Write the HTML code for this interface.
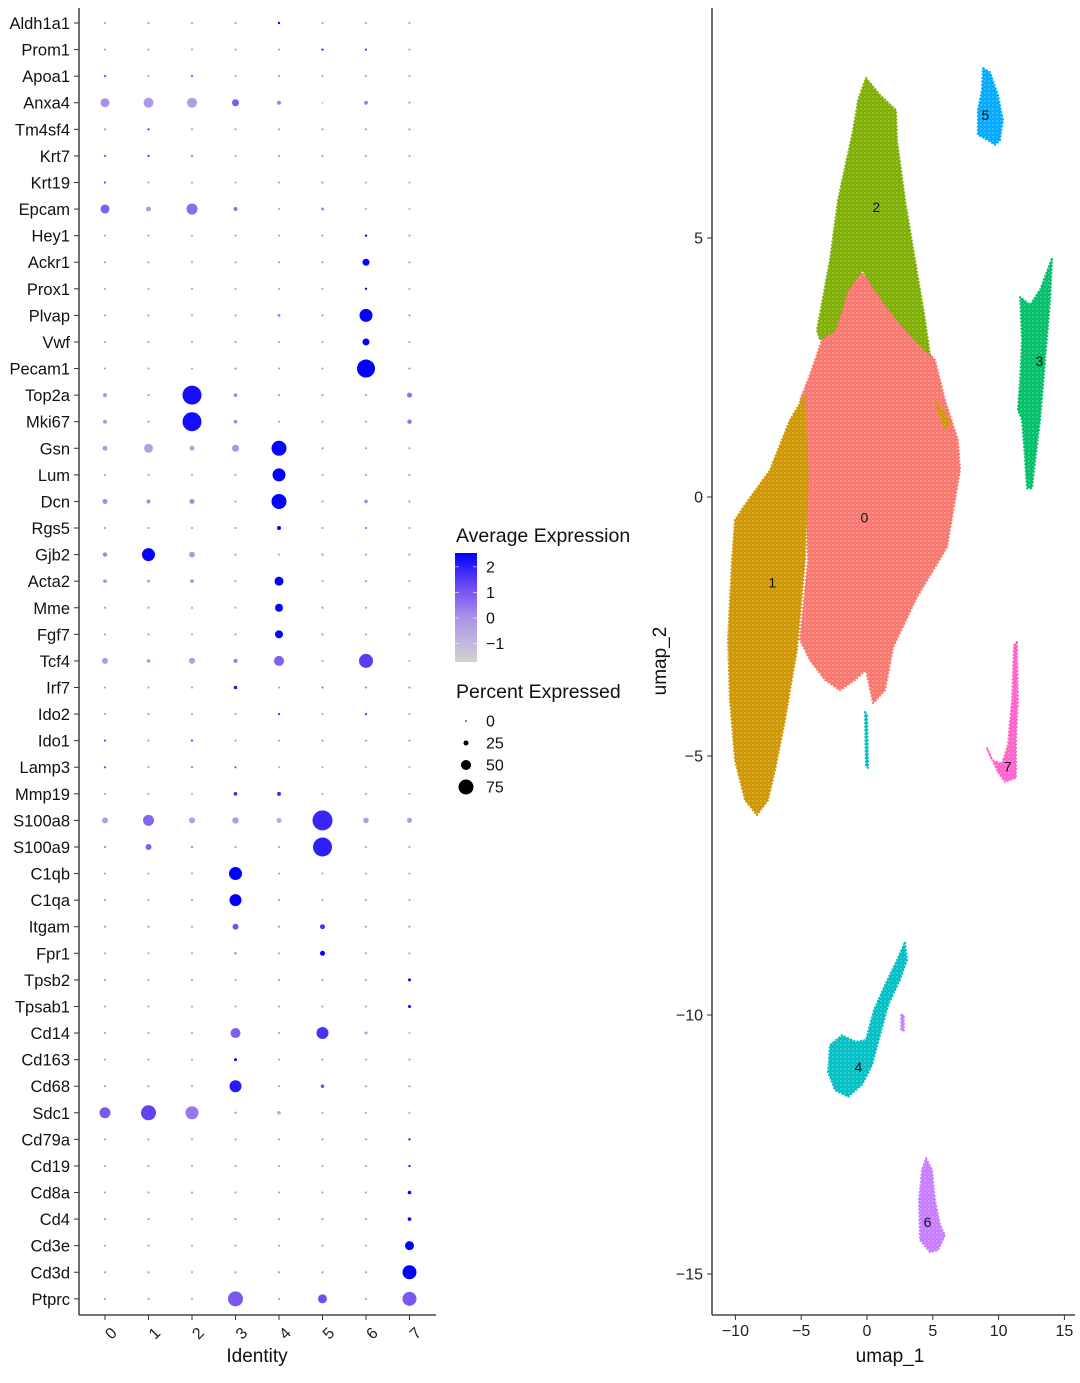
<!DOCTYPE html>
<html><head><meta charset="utf-8"><style>
html,body{margin:0;padding:0;background:#fff;}
svg{display:block;font-family:"Liberation Sans",Arial,sans-serif;}
</style></head><body>
<svg id="fig" width="1080" height="1383" viewBox="0 0 1080 1383" xmlns="http://www.w3.org/2000/svg">
<g id="dotplot"></g>
<g id="legend"></g>
<g id="umap"></g>
</svg>
<script>
const genes = ["Aldh1a1","Prom1","Apoa1","Anxa4","Tm4sf4","Krt7","Krt19","Epcam","Hey1","Ackr1","Prox1","Plvap","Vwf","Pecam1","Top2a","Mki67","Gsn","Lum","Dcn","Rgs5","Gjb2","Acta2","Mme","Fgf7","Tcf4","Irf7","Ido2","Ido1","Lamp3","Mmp19","S100a8","S100a9","C1qb","C1qa","Itgam","Fpr1","Tpsb2","Tpsab1","Cd14","Cd163","Cd68","Sdc1","Cd79a","Cd19","Cd8a","Cd4","Cd3e","Cd3d","Ptprc"];
const identities = ["0","1","2","3","4","5","6","7"];
// percent expressed per gene (8 clusters)
const pct = [
[7,7,7,7,12,7,7,7],[7,7,7,7,7,9,9,7],[8,7,8,7,7,7,7,7],[45,50,50,35,20,7,20,7],
[7,8,7,7,7,7,7,7],[8,8,7,7,7,7,7,7],[8,7,7,7,7,7,7,7],[45,25,55,20,7,15,7,7],
[7,7,7,7,7,7,12,7],[7,7,7,7,7,7,35,7],[7,7,7,7,7,7,12,7],[7,7,7,7,15,7,65,7],
[7,7,7,7,7,7,35,7],[7,7,7,8,7,7,90,8],[20,7,95,18,7,7,7,25],[20,7,95,18,7,7,7,22],
[25,45,25,35,75,10,10,8],[7,7,7,7,65,7,7,7],[25,20,25,8,75,7,18,10],[7,7,7,7,20,7,9,7],
[22,65,28,7,7,8,7,7],[18,14,18,7,45,7,10,7],[7,7,7,7,40,7,7,7],[7,7,7,7,40,7,7,7],
[30,18,30,20,50,8,70,7],[7,7,7,18,7,9,8,8],[7,7,7,7,9,7,9,7],[8,7,8,7,7,7,7,7],
[8,7,8,8,7,7,7,7],[7,7,7,18,20,7,7,7],[30,55,30,32,25,100,28,25],[12,30,12,10,8,95,10,10],
[7,7,7,65,7,7,7,7],[7,7,7,60,7,7,7,7],[7,7,7,30,7,25,7,7],[7,7,7,12,7,25,7,7],
[7,7,7,7,7,7,7,15],[7,7,7,7,7,7,7,15],[8,7,7,50,7,60,15,7],[7,7,7,15,7,7,7,7],
[9,8,8,60,7,18,7,7],[55,75,65,12,18,10,10,10],[7,7,7,7,7,7,7,10],[7,7,7,7,7,7,7,10],
[7,7,7,7,7,7,7,18],[7,7,7,8,7,7,7,18],[7,7,7,7,7,7,7,45],[7,7,7,7,7,7,7,70],
[7,7,7,75,7,45,7,70]];
// average scaled expression per gene (8 clusters)
const avg = [
[-0.3,-0.3,-0.3,-0.3,2.4,-0.3,-0.3,-0.3],[-0.3,-0.3,-0.3,-0.3,-0.3,2.0,1.6,-0.3],[1.2,-0.3,0.8,-0.3,-0.3,-0.5,-0.3,-0.5],[0,-0.2,-0.3,0.9,0.3,-1.6,0.2,-0.4],
[-0.2,1.6,-0.2,-0.3,-0.3,-0.3,-0.3,-0.3],[1.0,1.6,0.5,-0.3,-0.3,-0.3,-0.3,-0.3],[1.2,-0.3,-0.3,-0.6,-0.3,-0.2,-0.6,-0.6],[0.8,-0.3,0.6,0.5,-0.5,0.3,-0.6,-0.5],
[-0.3,-0.3,-0.5,-0.3,-0.3,-0.3,2.4,-0.3],[-0.3,-0.3,-0.5,-0.3,-0.3,-0.3,2.4,-0.3],[-0.3,-0.3,-0.3,-0.3,-0.3,-0.3,2.4,-0.3],[-0.3,-0.3,-0.3,-0.3,0.2,-0.3,2.4,-0.3],
[-0.3,-0.3,-0.3,0,-0.3,-0.3,2.4,-0.3],[-0.3,-0.3,-0.5,0.1,-0.3,-0.3,2.45,0.1],[-0.1,-0.3,2.2,0.2,-0.3,-0.3,-0.3,0.5],[-0.1,-0.3,2.2,0.2,-0.3,-0.3,-0.3,0.5],
[-0.2,-0.4,-0.4,-0.1,2.4,0,-0.2,-0.3],[-0.5,-0.5,-0.5,-0.5,2.4,-0.5,-0.3,-0.3],[0.1,0.1,0.1,-0.3,2.4,-0.3,0.1,-0.1],[-0.3,-0.3,-0.5,-0.3,2.4,-0.3,0.5,-0.3],
[0.2,2.4,-0.1,-0.3,-0.6,-0.1,-0.3,-0.3],[0.1,0,0,-0.5,2.4,-0.3,0,-0.3],[-0.3,-0.3,-0.5,-0.5,2.4,-0.3,-0.3,-0.3],[-0.3,-0.3,-0.3,-0.3,2.4,-0.3,-0.3,-0.3],
[-0.2,-0.1,-0.3,0.4,0.8,-0.3,1.4,-0.5],[-0.5,-0.5,-0.5,2.0,-0.5,0.5,0.1,0.1],[-0.3,-0.3,-0.3,-0.5,1.6,-0.5,1.6,-0.5],[1.2,-0.3,1.3,-0.3,-0.5,-0.3,-0.3,-0.3],
[1.2,-0.3,0.3,1.0,-0.6,-0.6,-0.6,-0.6],[-0.5,-0.5,-0.7,1.8,1.7,-0.3,-0.3,-0.5],[-0.3,0.7,-0.3,-0.3,-0.6,1.8,-0.3,-0.2],[-0.1,0.8,-0.1,-0.3,-0.5,1.9,-0.3,-0.3],
[-0.3,-0.3,-0.3,2.45,-0.3,-0.3,-0.3,-0.3],[-0.3,-0.3,-0.3,2.45,-0.3,-0.5,-0.3,-0.3],[-0.3,-0.3,-0.3,1.0,-0.3,1.6,-0.3,-0.3],[-0.3,-0.3,-0.3,0.4,-0.3,2.4,-0.3,-0.3],
[-0.3,-0.3,-0.3,-0.3,-0.3,-0.3,-0.3,2.4],[-0.3,-0.3,-0.3,-0.3,-0.3,-0.3,-0.3,2.4],[-0.3,-0.3,-0.3,0.8,-0.3,1.6,-0.1,-0.5],[-0.3,-0.3,-0.3,2.45,-0.3,-0.3,-0.3,-0.3],
[-0.1,-0.1,-0.1,2.0,-0.3,1.0,-0.3,-0.3],[0.9,1.3,0.4,-0.2,-0.6,-0.3,-0.3,-0.3],[-0.3,-0.3,-0.3,-0.3,-0.3,-0.3,-0.3,2.4],[-0.3,-0.3,-0.3,-0.3,-0.3,-0.3,-0.3,2.4],
[-0.3,-0.3,-0.3,-0.3,-0.3,-0.3,-0.3,2.4],[-0.3,-0.3,-0.3,-0.3,-0.3,-0.3,-0.3,2.4],[-0.3,-0.3,-0.3,-0.3,-0.3,-0.3,-0.3,2.4],[-0.3,-0.3,-0.3,-0.3,-0.3,-0.3,-0.3,2.45],
[-0.3,-0.3,-0.3,0.9,-0.3,1.1,-0.3,0.9]];
const colorTicks = [2,1,0,-1];
const sizeTicks = [0,25,50,75];
const umapXTicks = [-10,-5,0,5,10,15];
const umapYTicks = [5,0,-5,-10,-15];
const clusterIds = ["0","1","2","3","4","5","6","7"];
const clusterColors = ["#F8766D","#CD9600","#7CAE00","#00BE67","#00BFC4","#00A9FF","#C77CFF","#FF61CC"];
const clusterLabelPos = [[-0.2,-0.4],[-7.2,-1.65],[0.7,5.6],[13.1,2.63],[-0.65,-11.0],[9.0,7.37],[4.6,-14.0],[10.7,-5.2]];
const clusterShapes = [
 {c:0,p:[[-0.68,4.38],[-2.05,3.8],[-3.42,3.03],[-4.33,2.36],[-5.09,1.87],[-4.71,0.33],[-4.48,-1.22],[-5.09,-2.76],[-4.33,-3.15],[-3.19,-3.53],[-2.05,-3.73],[-0.91,-3.53],[-0.08,-3.34],[0.46,-3.98],[1.37,-3.73],[1.98,-2.9],[3.8,-1.93],[6.08,-0.97],[7.07,0.52],[6.91,1.1],[5.93,1.87],[5.17,2.64],[3.27,3.22],[0.99,4.0]]},
 {c:1,p:[[-4.71,1.97],[-5.85,1.49],[-7.37,0.52],[-9.27,-0.15],[-10.03,-0.44],[-10.26,-1.22],[-10.56,-2.76],[-10.41,-3.92],[-10.03,-5.08],[-9.27,-5.85],[-8.36,-6.14],[-7.52,-5.85],[-6.99,-5.27],[-6.23,-4.31],[-5.85,-3.73],[-5.32,-2.95],[-4.71,-1.22],[-4.48,0.33]]},
 {c:1,p:[[5.2,1.85],[5.9,1.6],[6.3,1.45],[5.9,1.3]]},
 {c:2,p:[[-0.08,8.09],[0.99,7.76],[2.2,7.47],[2.28,6.89],[2.89,5.73],[3.65,4.58],[4.41,3.42],[4.79,2.74],[3.27,3.13],[1.37,3.71],[-0.38,4.38],[-1.44,4.0],[-2.43,3.22],[-3.57,3.03],[-3.8,3.22],[-2.81,4.58],[-2.2,5.73],[-1.06,7.08],[-0.68,7.66]]},
 {c:3,p:[[14.06,4.61],[13.91,3.8],[13.53,2.64],[13.15,1.49],[12.77,0.71],[12.54,0.17],[12.16,0.17],[12.01,0.71],[11.78,1.49],[11.47,1.68],[11.63,2.26],[11.78,3.03],[11.63,3.86],[12.39,3.71],[13.15,4.0]]},
 {c:4,p:[[2.89,-8.59],[3.04,-8.94],[2.51,-9.32],[1.6,-9.81],[0.99,-10.39],[0.38,-10.97],[-0.38,-11.35],[-1.44,-11.58],[-2.43,-11.45],[-2.96,-11.1],[-2.81,-10.58],[-1.9,-10.39],[-0.84,-10.52],[-0.08,-10.48],[0.53,-9.9],[1.37,-9.42],[2.28,-8.94]]},
 {c:4,p:[[-0.15,-4.15],[0.0,-4.2],[0.08,-5.23],[-0.08,-5.2]]},
 {c:5,p:[[8.81,8.28],[9.35,8.2],[9.95,7.76],[10.33,7.28],[10.11,6.89],[9.73,6.8],[9.19,6.89],[8.43,6.99],[8.43,7.47],[8.74,7.86]]},
 {c:6,p:[[4.48,-12.76],[4.94,-12.99],[5.17,-13.57],[5.55,-14.05],[5.93,-14.25],[5.4,-14.54],[4.79,-14.58],[4.03,-14.34],[3.95,-13.57],[4.18,-12.99]]},
 {c:6,p:[[2.6,-10.0],[2.8,-10.0],[2.8,-10.3],[2.6,-10.3]]},
 {c:7,p:[[11.4,-2.8],[11.47,-3.92],[11.32,-4.69],[11.32,-5.42],[10.49,-5.5],[9.95,-5.31],[9.12,-4.85],[9.5,-5.08],[10.26,-5.15],[10.71,-4.79],[11.02,-3.92],[11.17,-2.86]]}
];
</script>
<script>
const NS="http://www.w3.org/2000/svg";
function mk(tag,parent,attrs){const e=document.createElementNS(NS,tag);for(const k in attrs)e.setAttribute(k,attrs[k]);parent.appendChild(e);return e;}
const colX = i => 105 + i*43.5;
const rowY = j => 23 + j*26.58;
const radius = p => Math.max(1.1, p*0.1);
const stops=[[0,[211,211,211]],[0.4,[172,148,232]],[0.7,[108,72,242]],[1,[0,0,255]]];
function colorOf(v){let t=(v+1.75)/4.2;t=Math.max(0,Math.min(1,t));
 for(let k=1;k<stops.length;k++){if(t<=stops[k][0]){const a=stops[k-1],b=stops[k];const f=(t-a[0])/(b[0]-a[0]);
  return 'rgb('+a[1].map((c,i)=>Math.round(c+(b[1][i]-c)*f)).join(',')+')';}}return 'rgb(0,0,255)';}
const dp=document.getElementById('dotplot');
let e=mk('line',dp,{x1:79,y1:8,x2:79,y2:1315,stroke:'#222','stroke-width':1.3});

e=mk('line',dp,{x1:79,y1:1315,x2:436,y2:1315,stroke:'#222','stroke-width':1.3});

genes.forEach((g,j)=>{
 const y=rowY(j);
 let t=mk('line',dp,{x1:74,y1:y,x2:79,y2:y,stroke:'#333','stroke-width':1});
 
 let l=mk('text',dp,{x:70,y:y+6,'text-anchor':'end','font-size':16.5,fill:'#111'});l.textContent=g;
 
 identities.forEach((id,i)=>{
  const c=mk('circle',dp,{cx:colX(i),cy:y,r:radius(pct[j][i]),fill:colorOf(avg[j][i])});
  
 });
});
identities.forEach((id,i)=>{
 const x=colX(i);
 let t=mk('line',dp,{x1:x,y1:1315,x2:x,y2:1320,stroke:'#333','stroke-width':1});
 
 let l=mk('text',dp,{x:x+5,y:1326,'text-anchor':'end','font-size':16,fill:'#222',transform:'rotate(-45 '+(x+5)+' 1326)',dy:'0.7em'});
 l.textContent=id;
});
e=mk('text',dp,{x:257,y:1362,'text-anchor':'middle','font-size':19,fill:'#111'});e.textContent='Identity';

const lg=document.getElementById('legend');
const defs=mk('defs',lg,{});
const grad=mk('linearGradient',defs,{id:'cbar',x1:0,y1:1,x2:0,y2:0});
for(let k=0;k<=10;k++){const v=-1.75+4.2*k/10;mk('stop',grad,{offset:(k*10)+'%','stop-color':colorOf(v)});}
e=mk('text',lg,{x:456,y:542,'font-size':19.5,fill:'#111'});e.textContent='Average Expression';

const cbY=v=>618-(v*25.6);
e=mk('rect',lg,{x:455,y:553,width:22,height:109,fill:'url(#cbar)'});

colorTicks.forEach(v=>{const y=cbY(v);
 mk('line',lg,{x1:455,y1:y,x2:459,y2:y,stroke:'#fff','stroke-width':0.8,opacity:0.7});
 mk('line',lg,{x1:473,y1:y,x2:477,y2:y,stroke:'#fff','stroke-width':0.8,opacity:0.7});
 const t=mk('text',lg,{x:486,y:y+5.5,'font-size':16,fill:'#111'});t.textContent=v<0?'\u2212'+Math.abs(v):String(v);
 });
e=mk('text',lg,{x:456,y:698,'font-size':19.5,fill:'#111'});e.textContent='Percent Expressed';

sizeTicks.forEach((v,k)=>{const y=721+k*22;
 const c=mk('circle',lg,{cx:466,cy:y,r:v===0?0.8:radius(v),fill:'#000'});
 
 const t=mk('text',lg,{x:486,y:y+5.5,'font-size':16,fill:'#111'});t.textContent=v;
 });
const um=document.getElementById('umap');
const ux=v=>867+v*13.16;
const uy=v=>497-v*51.8;
const pat=mk('pattern',defs,{id:'stip',width:4,height:4,patternUnits:'userSpaceOnUse'});
mk('circle',pat,{cx:1,cy:1,r:0.7,fill:'#fff',opacity:0.5});
mk('circle',pat,{cx:3,cy:3,r:0.5,fill:'#fff',opacity:0.3});
clusterShapes.forEach(s=>{
 const pts=s.p.map(q=>ux(q[0]).toFixed(1)+','+uy(q[1]).toFixed(1)).join(' ');
 const col=clusterColors[s.c];
 const p=mk('polygon',um,{points:pts,fill:col,stroke:col,'stroke-width':2,'stroke-linejoin':'round','stroke-dasharray':'2 1.5'});
 
 const o=mk('polygon',um,{points:pts,fill:'url(#stip)'});
 
});
clusterLabelPos.forEach((q,k)=>{
 const t=mk('text',um,{x:ux(q[0]),y:uy(q[1])+5,'text-anchor':'middle','font-size':14,fill:'#111'});t.textContent=clusterIds[k];
 
});
e=mk('line',um,{x1:712,y1:8,x2:712,y2:1315,stroke:'#222','stroke-width':1.3});

e=mk('line',um,{x1:712,y1:1315,x2:1075,y2:1315,stroke:'#222','stroke-width':1.3});

const fmt=v=>v<0?'\u2212'+Math.abs(v):String(v);
umapXTicks.forEach(v=>{const x=ux(v);
 mk('line',um,{x1:x,y1:1315,x2:x,y2:1320,stroke:'#333','stroke-width':1});
 const t=mk('text',um,{x:x,y:1336,'text-anchor':'middle','font-size':16,fill:'#222'});t.textContent=fmt(v);
 });
umapYTicks.forEach(v=>{const y=uy(v);
 mk('line',um,{x1:707,y1:y,x2:712,y2:y,stroke:'#333','stroke-width':1});
 const t=mk('text',um,{x:703,y:y+5.5,'text-anchor':'end','font-size':16,fill:'#222'});t.textContent=fmt(v);
 });
e=mk('text',um,{x:890,y:1362,'text-anchor':'middle','font-size':19,fill:'#111'});e.textContent='umap_1';

e=mk('text',um,{x:666,y:661,'text-anchor':'middle','font-size':19,fill:'#111',transform:'rotate(-90 666 661)'});e.textContent='umap_2';

</script>
</body></html>
